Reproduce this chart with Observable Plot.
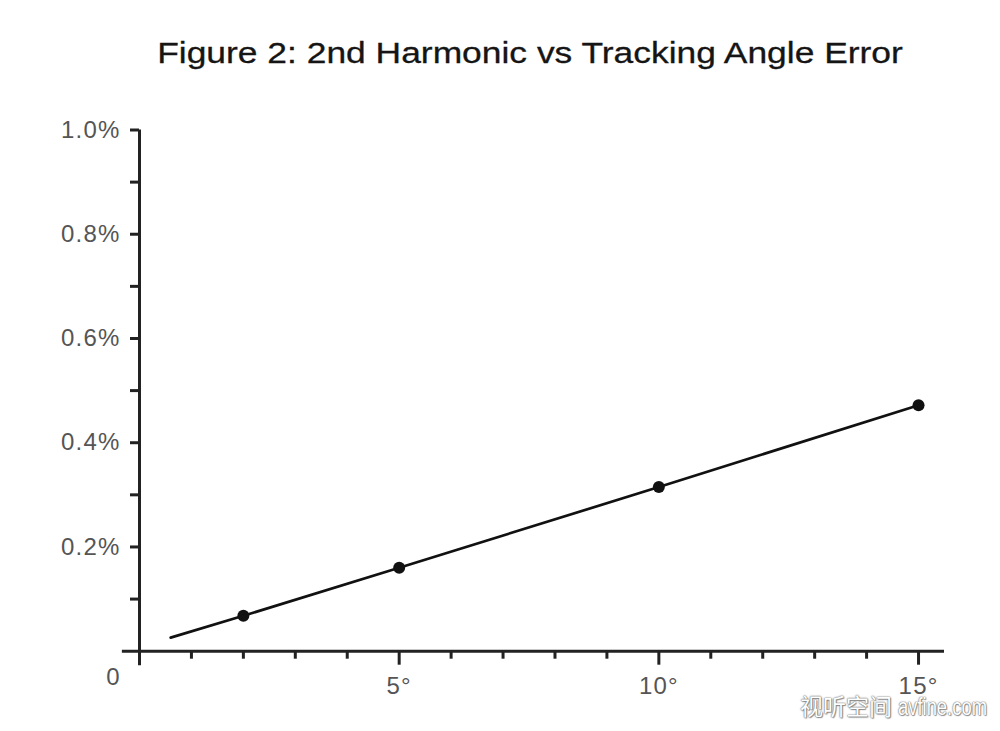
<!DOCTYPE html>
<html>
<head>
<meta charset="utf-8">
<script src="https://cdn.jsdelivr.net/npm/d3@7"></script>
<script src="https://cdn.jsdelivr.net/npm/@observablehq/plot@0.6"></script>
<style>
  body { margin: 0; background: #fff; width: 1000px; height: 731px; overflow: hidden; position: relative; font-family: "Liberation Sans", Arial, sans-serif; }
  #title { height: 100px; position: relative; }
  #title span { position: absolute; left: 530px; top: 38px; line-height: 30px; font-size: 30px; white-space: nowrap; color: #151515;
    transform: translateX(-50%) scaleX(1.18); -webkit-text-stroke: 0.3px #151515; }
  #chart { position: absolute; left: 0; top: 100px; }
  #wm { position: absolute; left: 800px; top: 688px; font-size: 23px; color: #fff; white-space: nowrap;
    text-shadow: 0 0 2px #777, 0 0 1px #555, 1px 1px 1px #999; }
  #wm .cjk { font-family: "Noto Sans CJK SC"; }
  #wm .lat { font-family: "Liberation Sans Narrow", "Liberation Sans", sans-serif; display: inline-block; transform: scaleX(0.8); transform-origin: left; }
</style>
</head>
<body>
<div id="title"><span>Figure 2: 2nd Harmonic vs Tracking Angle Error</span></div>
<div id="chart"></div>
<div id="wm"><span class="cjk">视听空间</span> <span class="lat">avfine.com</span></div>
<script>
// Data: tracking angle error (degrees) vs 2nd harmonic distortion (%)
const angles = [2, 5, 10, 15];
const harmonic = [0.068, 0.16, 0.315, 0.472];
// Straight line drawn through the points, starting a little before 1°
const lineAngles = [0.6, 2, 5, 10, 15];
const lineHarmonic = [0.026, 0.068, 0.16, 0.315, 0.472];

// Tick values / labels
const xMajorTicks = [5, 10, 15];
const xMinorTicks = [1, 2, 3, 4, 6, 7, 8, 9, 11, 12, 13, 14];
const yMajorTicks = [0.2, 0.4, 0.6, 0.8, 1.0];
const yMinorTicks = [0.1, 0.3, 0.5, 0.7, 0.9];
const originLabel = ["0"];

// Axis extents (in data units)
const xDomain = [0, 15.5];
const yDomain = [0, 1.0];
const xAxisStart = -0.33;
const yAxisStart = -0.028;

const points = angles.map((a, i) => ({angle: a, value: harmonic[i]}));
const trend = lineAngles.map((a, i) => ({angle: a, value: lineHarmonic[i]}));

const ink = "#222";
const labelInk = "#555";

const chart = Plot.plot({
  width: 1000,
  height: 631,
  marginLeft: 139,
  marginRight: 56,
  marginTop: 29.5,
  marginBottom: 80.3,
  x: {domain: xDomain, label: null},
  y: {domain: yDomain, label: null},
  style: {fontFamily: "Liberation Sans, Arial, sans-serif", fontSize: "24px", letterSpacing: "1.2px", background: "transparent", overflow: "visible"},
  marks: [
    // y axis ticks and labels
    Plot.axisY({ticks: yMajorTicks, tickSize: 9, tickPadding: 10, tickFormat: d => d.toFixed(1) + "%", stroke: ink, strokeWidth: 3, fill: labelInk, label: null}),
    Plot.axisY({ticks: yMinorTicks, tickSize: 9, tickFormat: () => "", stroke: ink, strokeWidth: 3, label: null}),
    // x axis ticks and labels
    Plot.axisX({ticks: xMajorTicks, tickSize: 14, tickPadding: 12, tickFormat: d => d + "°", stroke: ink, strokeWidth: 3, fill: labelInk, label: null}),
    Plot.axisX({ticks: xMinorTicks, tickSize: 8, tickFormat: () => "", stroke: ink, strokeWidth: 3, label: null}),
    // axis lines
    Plot.ruleY([0], {x1: xAxisStart, x2: xDomain[1], stroke: ink, strokeWidth: 3}),
    Plot.ruleX([0], {y1: yAxisStart, y2: yDomain[1], stroke: ink, strokeWidth: 3}),
    // origin label
    Plot.text(originLabel, {x: () => 0, y: () => 0, text: d => d, dx: -26, dy: 26, fill: labelInk, fontSize: 24}),
    // data
    Plot.line(trend, {x: "angle", y: "value", stroke: "#111", strokeWidth: 2.7}),
    Plot.dot(points, {x: "angle", y: "value", r: 6, fill: "#111", stroke: "none"})
  ]
});
document.getElementById("chart").appendChild(chart);
</script>
</body>
</html>
